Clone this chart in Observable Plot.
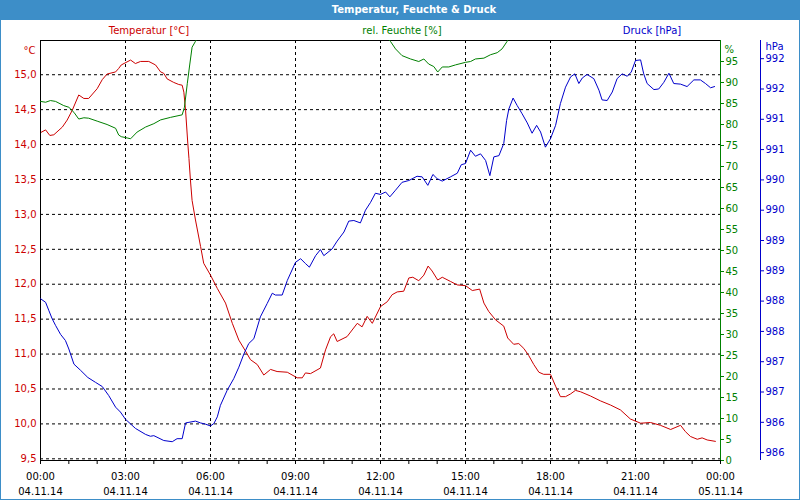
<!DOCTYPE html>
<html><head><meta charset="utf-8">
<script src="https://cdn.jsdelivr.net/npm/d3@7"></script>
<script src="https://cdn.jsdelivr.net/npm/@observablehq/plot@0.6"></script>
<style>
body{margin:0;background:#fff;}
#wrap{position:relative;width:800px;height:500px;overflow:hidden;font-family:"DejaVu Sans",sans-serif;background:#fff;}
#wrap svg{position:absolute;left:0;top:0;}
#title{position:absolute;left:0;top:0;width:800px;height:20px;background:#3d8ec8;color:#fff;font-weight:bold;font-size:10px;line-height:20px;text-align:center;box-sizing:border-box;padding-left:28px;}
.leg{position:absolute;top:24px;font-size:10px;transform:translateX(-50%);white-space:nowrap;line-height:14px;}
#border{position:absolute;left:0;top:0;width:800px;height:500px;box-sizing:border-box;border:1px solid #3d8ec8;pointer-events:none;}
</style></head><body>
<div id="wrap">
  <div id="title">Temperatur, Feuchte &amp; Druck</div>
  <div class="leg" style="left:149px;color:#cc0000">Temperatur [°C]</div>
  <div class="leg" style="left:402px;color:#008000">rel. Feuchte [%]</div>
  <div class="leg" style="left:652px;color:#0000cc">Druck [hPa]</div>
</div>
<script>
// ---- data (hours since 04.11.14 00:00) ----
const tempHours = [0.00,0.18,0.33,0.47,0.77,0.94,1.12,1.35,1.53,1.70,2.00,2.18,2.35,2.65,2.76,2.85,3.18,3.35,3.53,3.82,4.06,4.24,4.35,4.47,4.70,4.88,5.00,5.06,5.12,5.20,5.24,5.29,5.35,5.47,5.65,5.76,6.00,6.24,6.53,6.77,7.00,7.24,7.41,7.65,7.88,8.12,8.35,8.71,9.06,9.24,9.35,9.53,9.88,10.06,10.24,10.35,10.47,10.82,11.18,11.35,11.53,11.71,12.00,12.24,12.41,12.59,12.82,13.00,13.14,13.35,13.53,13.68,13.82,14.02,14.18,14.47,14.71,15.00,15.24,15.50,15.65,15.82,16.06,16.35,16.49,16.70,16.88,17.06,17.23,17.41,17.59,17.76,18.00,18.18,18.35,18.53,18.71,18.88,19.06,19.41,19.76,20.12,20.47,20.82,21.18,21.53,21.88,22.24,22.59,22.76,22.94,23.18,23.35,23.53,23.82];
const tempValues = [14.17,14.21,14.13,14.14,14.25,14.35,14.49,14.71,14.66,14.66,14.80,14.93,15.01,15.04,15.09,15.14,15.21,15.16,15.19,15.19,15.14,15.04,15.02,14.94,14.89,14.86,14.85,14.75,14.49,14.01,13.80,13.50,13.20,12.92,12.54,12.30,12.13,11.94,11.73,11.44,11.20,11.04,10.92,10.85,10.70,10.78,10.75,10.74,10.66,10.66,10.73,10.72,10.80,11.06,11.25,11.29,11.18,11.25,11.44,11.39,11.54,11.44,11.68,11.75,11.85,11.89,11.90,12.09,12.10,12.05,12.13,12.26,12.19,12.06,12.10,12.04,11.99,11.98,11.91,11.93,11.73,11.61,11.49,11.40,11.23,11.14,11.15,11.08,10.98,10.85,10.74,10.71,10.71,10.54,10.39,10.39,10.43,10.48,10.46,10.40,10.33,10.27,10.20,10.07,10.01,10.02,9.98,9.92,9.98,9.89,9.82,9.78,9.80,9.77,9.75];

const humHours = [0.00,0.18,0.35,0.53,0.82,1.00,1.18,1.35,1.53,1.70,2.00,2.35,2.65,2.76,2.85,3.06,3.18,3.41,3.71,4.00,4.24,4.59,5.00,5.08,5.18,5.27,5.35,5.47,5.60,6.50,9.00,11.50,12.20,12.35,12.53,12.76,13.06,13.35,13.53,13.70,13.88,14.02,14.18,14.41,14.65,15.00,15.18,15.35,15.65,15.88,16.12,16.29,16.47,16.60,18.00,21.00,23.80];
const humValues = [85.5,85.3,85.7,85.5,84.5,84.1,82.9,81.3,81.6,81.5,80.8,80.0,79.1,77.5,77.1,76.8,76.6,78.2,79.4,80.2,81.1,81.7,82.3,84.1,89.7,94.4,98.4,99.8,101.5,103,104,103,101.2,99.8,98.0,96.4,95.6,95.0,95.6,94.4,93.8,92.5,93.7,93.7,94.2,94.8,95.0,95.6,95.8,96.6,97.1,98.0,99.8,101.5,104,105,105];

const presHours = [0.00,0.18,0.29,0.41,0.53,0.71,0.88,1.00,1.18,1.41,1.67,1.94,2.18,2.41,2.65,2.82,3.00,3.35,3.71,3.88,4.00,4.35,4.65,4.82,5.00,5.12,5.24,5.47,5.65,5.82,6.00,6.12,6.24,6.35,6.59,6.82,7.00,7.18,7.35,7.53,7.76,8.00,8.18,8.29,8.53,8.71,9.00,9.18,9.35,9.49,9.71,9.88,10.00,10.29,10.47,10.71,10.88,11.06,11.29,11.47,11.65,11.82,12.00,12.18,12.33,12.53,12.76,13.00,13.29,13.47,13.67,13.85,14.00,14.18,14.47,14.71,14.85,15.00,15.18,15.35,15.53,15.71,15.86,16.00,16.18,16.35,16.45,16.53,16.68,16.82,17.00,17.18,17.35,17.51,17.65,17.82,18.00,18.18,18.35,18.53,18.71,18.86,19.00,19.12,19.29,19.53,19.71,19.82,20.00,20.18,20.35,20.53,20.71,20.85,21.00,21.18,21.29,21.41,21.65,21.82,22.00,22.18,22.35,22.59,22.82,23.06,23.29,23.47,23.65,23.79];
const presValues = [988.04,987.98,987.85,987.71,987.60,987.45,987.35,987.21,986.96,986.86,986.74,986.66,986.59,986.44,986.25,986.17,986.05,985.90,985.80,985.77,985.78,985.70,985.68,985.73,985.73,985.99,986.00,986.02,985.99,985.97,985.94,985.98,986.09,986.28,986.53,986.72,986.91,987.13,987.30,987.38,987.74,987.96,988.13,988.10,988.10,988.34,988.64,988.70,988.62,988.56,988.75,988.85,988.75,988.86,988.99,989.14,989.32,989.33,989.29,989.50,989.63,989.78,989.76,989.80,989.72,989.83,989.96,989.99,990.06,990.05,989.91,990.09,990.02,989.98,990.05,990.11,990.25,990.27,990.49,990.39,990.43,990.32,990.07,990.38,990.40,990.60,990.98,991.17,991.35,991.23,991.09,990.94,990.77,990.90,990.79,990.54,990.68,990.90,991.26,991.53,991.70,991.75,991.59,991.68,991.74,991.67,991.48,991.32,991.31,991.45,991.67,991.75,991.71,991.78,991.97,991.98,991.75,991.59,991.49,991.50,991.61,991.76,991.59,991.58,991.54,991.65,991.65,991.59,991.52,991.54];

// ---- ticks / labels ----
const tempTicks = [9.5,10.0,10.5,11.0,11.5,12.0,12.5,13.0,13.5,14.0,14.5,15.0];
const humTicks = [0,5,10,15,20,25,30,35,40,45,50,55,60,65,70,75,80,85,90,95];
const presTicks = [985.5,986,986.5,987,987.5,988,988.5,989,989.5,990,990.5,991,991.5,992];
const hourTicks = d3.range(0,25);
const labelHours = [0,3,6,9,12,15,18,21,24];
const timeLabels = ["00:00","03:00","06:00","09:00","12:00","15:00","18:00","21:00","00:00"];
const dateLabels = ["04.11.14","04.11.14","04.11.14","04.11.14","04.11.14","04.11.14","04.11.14","04.11.14","05.11.14"];
const gridHours = [3,6,9,12,15,18,21];

const RED="#cc0000", GREEN="#008000", BLUE="#0000cc";
const tempData = tempHours.map((h,i)=>({h, v:tempValues[i]}));
const humData = humHours.map((h,i)=>({h, v:humValues[i]}));
const presData = presHours.map((h,i)=>({h, v:presValues[i]}));

const common = {
  width:800, height:500, marginLeft:40, marginRight:80, marginTop:40, marginBottom:40,
  style:{background:"transparent", fontFamily:"DejaVu Sans, sans-serif", fontSize:"10px", overflow:"visible"}
};
const dash = "3,3";

const p1 = Plot.plot({
  ...common,
  x:{domain:[0,24], label:null},
  y:{domain:[9.476,15.49], label:null},
  marks:[
    Plot.gridY({ticks:tempTicks, stroke:"#000", strokeOpacity:1, strokeDasharray:dash}),
    Plot.gridX({ticks:gridHours, stroke:"#000", strokeOpacity:1, strokeDasharray:dash}),
    Plot.axisY({ticks:tempTicks, anchor:"left", tickSize:0, tickPadding:4, tickFormat:d=>d.toFixed(1).replace(".",","), fill:RED, label:null}),
    Plot.axisX({ticks:hourTicks, anchor:"bottom", tickSize:4, tickFormat:()=>"", label:null, stroke:"#000"}),
    Plot.axisX({ticks:labelHours, anchor:"bottom", tickSize:4, tickPadding:5, lineHeight:1.5, fill:"#000",
      tickFormat:d=>{const i=labelHours.indexOf(d); return timeLabels[i]+"\n"+dateLabels[i];}, label:null}),
    Plot.line(tempData,{x:"h", y:"v", stroke:RED, strokeWidth:1}),
    Plot.frame({stroke:"#000"}),
    Plot.text(["°C"],{frameAnchor:"top-left", dx:-5, dy:6, textAnchor:"end", fill:RED})
  ]
});

const p2 = Plot.plot({
  ...common,
  x:{domain:[0,24], axis:null},
  y:{domain:[0,100], axis:null},
  marks:[
    Plot.line(humData,{x:"h", y:"v", stroke:GREEN, strokeWidth:1, clip:true}),
    Plot.ruleX([24],{stroke:GREEN}),
    Plot.axisY({ticks:humTicks, anchor:"right", tickSize:3, tickPadding:2, color:GREEN, stroke:GREEN, fill:GREEN, label:null}),
    Plot.text(["%"],{frameAnchor:"top-right", dx:4, dy:5, textAnchor:"start", fill:GREEN})
  ]
});

const p3 = Plot.plot({
  ...common,
  x:{domain:[0,24], axis:null},
  y:{domain:[985.37,992.3], axis:null},
  marks:[
    Plot.line(presData,{x:"h", y:"v", stroke:BLUE, strokeWidth:1}),
    Plot.ruleX([24],{stroke:BLUE, dx:40}),
    Plot.axisY({ticks:presTicks, anchor:"right", dx:40, tickSize:3, tickPadding:2, tickFormat:d=>String(Math.round(d)), color:BLUE, stroke:BLUE, fill:BLUE, label:null}),
    Plot.text(["hPa"],{frameAnchor:"top-right", dx:45, dy:2, textAnchor:"start", fill:BLUE})
  ]
});

const wrap = document.getElementById("wrap");
wrap.appendChild(p1); wrap.appendChild(p2); wrap.appendChild(p3);
const b = document.createElement("div"); b.id="border"; wrap.appendChild(b);
</script>
</body></html>
